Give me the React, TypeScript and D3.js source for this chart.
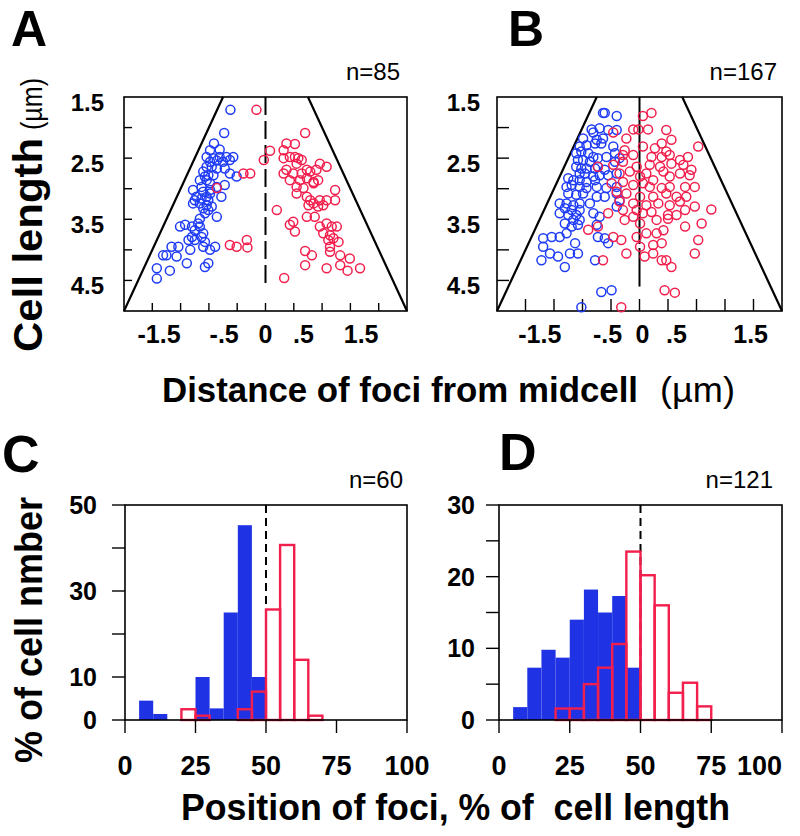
import React from 'react';
import * as d3 from 'd3';

// ---------- Scatter panels (A, B) ----------
const scatterXDomain: [number, number] = [-2.5, 2.5];
const scatterYDomain: [number, number] = [1.5, 5.0];
const scatterYTicks = [2.0, 2.5, 3.0, 3.5, 4.0, 4.5];
const scatterYLabels = [1.5, 2.5, 3.5, 4.5];
const scatterXTicks = [-2, -1.5, -1, -0.5, 0, 0.5, 1, 1.5, 2];
const scatterXLabelText = ['-1.5', '-.5', '0', '.5', '1.5'];
const aXLabelAt = [-1.88, -0.73, 0, 0.67, 1.69];
const bXLabelAt = [-1.75, -0.56, 0.05, 0.65, 1.95];
const cellLengthRange = [1.5, 5.0];
const midlineEnd = 4.6;

const aBlue: [number, number][] = [
  [-0.62, 1.71], [-0.73, 2.09], [-0.91, 2.26], [-0.98, 2.37], [-0.81, 2.36], [-1.04, 2.48], [-0.92, 2.5],
  [-0.81, 2.48], [-0.69, 2.48], [-0.57, 2.48], [-0.63, 2.53], [-0.98, 2.56], [-0.86, 2.54], [-0.75, 2.56],
  [-1.04, 2.64], [-0.95, 2.64], [-0.86, 2.67], [-0.72, 2.67], [-0.63, 2.75], [-0.51, 2.8], [-1.1, 2.72],
  [-1.01, 2.78], [-0.92, 2.78], [-1.16, 2.86], [-1.04, 2.86], [-0.98, 2.91], [-0.72, 2.94], [-1.13, 2.97],
  [-0.86, 2.97], [-1.28, 3.02], [-1.1, 3.05], [-0.98, 3.08], [-0.78, 3.13], [-1.22, 3.13], [-1.04, 3.13],
  [-1.28, 3.24], [-1.16, 3.24], [-1.04, 3.27], [-0.95, 3.29], [-1.1, 3.32], [-1.01, 3.35], [-0.86, 3.46],
  [-1.16, 3.49], [-1.19, 3.57], [-1.51, 3.62], [-1.42, 3.59], [-1.3, 3.62], [-1.16, 3.62], [-1.1, 3.73],
  [-1.36, 3.84], [-1.25, 3.84], [-1.07, 3.87], [-1.33, 4.0], [-1.66, 3.95], [-1.54, 3.95], [-1.1, 3.95],
  [-0.98, 4.0], [-0.89, 3.95], [-1.81, 4.09], [-1.75, 4.09], [-1.57, 4.11], [-1.39, 4.22], [-1.07, 4.28],
  [-1.01, 4.22], [-1.92, 4.3], [-1.69, 4.34], [-1.92, 4.47], [-1.07, 2.8], [-0.98, 3.02], [-1.13, 3.16],
  [-1.01, 3.19], [-1.25, 3.19], [-1.07, 3.4], [-1.25, 3.68], [-1.3, 3.79], [-1.13, 3.79],
];

const aRed: [number, number][] = [
  [-0.16, 1.71], [0.7, 2.09], [0.37, 2.26], [0.52, 2.27], [0.08, 2.38], [0.32, 2.37], [-0.03, 2.53],
  [0.32, 2.5], [0.43, 2.48], [0.52, 2.48], [0.58, 2.5], [0.64, 2.53], [0.55, 2.59], [0.73, 2.69],
  [0.96, 2.59], [1.08, 2.64], [-0.39, 2.75], [-0.27, 2.75], [0.32, 2.75], [0.37, 2.69], [0.49, 2.75],
  [0.64, 2.75], [0.79, 2.72], [0.9, 2.69], [0.43, 2.86], [0.61, 2.86], [0.73, 2.83], [0.85, 2.89],
  [0.93, 2.86], [0.55, 2.97], [0.67, 2.99], [0.85, 2.91], [-0.86, 2.99], [0.55, 3.08], [0.73, 3.13],
  [0.79, 3.19], [0.85, 3.24], [0.96, 3.19], [1.08, 3.19], [1.23, 3.02], [1.23, 3.19], [0.2, 3.35],
  [0.76, 3.27], [0.93, 3.29], [1.02, 3.27], [0.73, 3.46], [0.87, 3.46], [0.49, 3.54], [0.43, 3.59],
  [0.52, 3.7], [0.96, 3.62], [1.08, 3.57], [1.17, 3.62], [1.26, 3.62], [1.02, 3.73], [1.14, 3.76],
  [1.11, 3.84], [1.2, 3.81], [1.29, 3.87], [1.14, 3.95], [-0.63, 3.92], [-0.51, 3.95], [-0.33, 3.84],
  [-0.32, 3.96], [0.7, 4.02], [0.82, 4.09], [1.14, 4.03], [1.32, 4.09], [1.49, 4.14], [0.7, 4.25],
  [1.08, 4.3], [1.32, 4.25], [1.45, 4.34], [1.67, 4.3], [0.33, 4.46],
];

const bBlue: [number, number][] = [
  [-0.64, 1.76], [-0.61, 1.76], [-0.4, 1.81], [-0.84, 2.03], [-0.7, 2.01], [-0.55, 2.04], [-0.4, 2.04],
  [-0.81, 2.08], [-0.99, 2.18], [-0.75, 2.2], [-0.64, 2.18], [-1.05, 2.31], [-0.93, 2.29], [-0.78, 2.26],
  [-0.67, 2.26], [-0.46, 2.31], [-0.43, 2.42], [-1.11, 2.42], [-1.02, 2.39], [-0.9, 2.42], [-0.81, 2.48],
  [-1.08, 2.53], [-0.99, 2.53], [-0.87, 2.56], [-0.73, 2.5], [-0.58, 2.48], [-0.43, 2.56], [-0.35, 2.5],
  [-1.11, 2.64], [-1.02, 2.67], [-0.93, 2.67], [-0.78, 2.67], [-0.73, 2.64], [-0.61, 2.69], [-1.05, 2.75],
  [-0.96, 2.75], [-0.81, 2.8], [-0.7, 2.78], [-0.55, 2.78], [-0.4, 2.75], [-1.25, 2.83], [-1.16, 2.86],
  [-1.05, 2.86], [-0.93, 2.89], [-0.78, 2.86], [-1.28, 2.97], [-1.19, 2.94], [-1.05, 2.97], [-0.93, 2.99],
  [-0.75, 2.97], [-0.58, 2.99], [-0.4, 2.97], [-1.25, 3.08], [-1.11, 3.1], [-0.99, 3.08], [-0.75, 3.13],
  [-0.61, 3.13], [-0.4, 3.08], [-1.4, 3.24], [-1.28, 3.24], [-1.16, 3.27], [-1.05, 3.24], [-0.87, 3.24],
  [-1.31, 3.32], [-1.19, 3.35], [-1.05, 3.35], [-1.4, 3.4], [-1.25, 3.43], [-1.11, 3.43], [-0.81, 3.4],
  [-0.7, 3.46], [-0.4, 3.29], [-0.35, 3.19], [-1.16, 3.51], [-1.05, 3.51], [-1.31, 3.57], [-1.19, 3.62],
  [-1.08, 3.59], [-0.75, 3.59], [-1.69, 3.81], [-1.54, 3.79], [-1.4, 3.79], [-1.28, 3.73], [-0.73, 3.79],
  [-0.61, 3.81], [-0.55, 3.89], [-1.69, 3.95], [-1.13, 3.89], [-1.57, 4.06], [-1.43, 4.11], [-1.22, 4.06],
  [-1.08, 4.06], [-1.72, 4.17], [-1.31, 4.28], [-0.78, 4.17], [-0.67, 4.69], [-0.49, 4.66], [-1.02, 4.94],
];

const bRed: [number, number][] = [
  [0.06, 1.81], [0.21, 1.76], [-0.11, 2.03], [-0.02, 2.03], [0.15, 2.03], [-0.46, 2.08], [-0.23, 2.18],
  [0.47, 2.04], [0.56, 2.2], [0.39, 2.26], [-0.26, 2.37], [0.06, 2.31], [0.27, 2.34], [0.47, 2.39],
  [1.03, 2.31], [-0.29, 2.45], [-0.11, 2.45], [0.21, 2.48], [0.39, 2.48], [0.53, 2.45], [0.71, 2.53],
  [0.85, 2.48], [-0.73, 2.64], [-0.46, 2.61], [-0.29, 2.56], [-0.05, 2.64], [0.18, 2.61], [0.36, 2.64],
  [0.56, 2.59], [0.77, 2.61], [0.91, 2.69], [-0.35, 2.75], [-0.17, 2.72], [0.01, 2.8], [0.12, 2.75],
  [0.24, 2.86], [0.42, 2.72], [0.53, 2.8], [0.71, 2.75], [0.88, 2.78], [-0.49, 2.91], [-0.29, 2.89],
  [-0.11, 2.94], [0.06, 2.91], [0.18, 2.97], [0.39, 2.99], [0.53, 2.97], [0.8, 2.97], [0.97, 2.97],
  [-0.4, 3.05], [-0.23, 3.08], [0.01, 3.13], [0.24, 3.13], [0.47, 3.08], [0.65, 3.13], [0.82, 3.13],
  [-0.35, 3.21], [-0.11, 3.24], [0.12, 3.27], [0.33, 3.24], [0.53, 3.27], [0.71, 3.21], [0.97, 3.29],
  [1.26, 3.34], [-0.55, 3.4], [-0.29, 3.35], [-0.05, 3.35], [0.06, 3.4], [0.21, 3.38], [0.5, 3.43],
  [0.65, 3.43], [0.8, 3.35], [-0.26, 3.51], [-0.11, 3.46], [0.01, 3.57], [0.3, 3.51], [0.5, 3.49],
  [0.8, 3.62], [1.09, 3.57], [-0.9, 3.67], [-0.73, 3.62], [-0.46, 3.79], [-0.32, 3.84], [-0.05, 3.79],
  [0.12, 3.73], [0.3, 3.73], [0.42, 3.68], [-0.23, 4.06], [0.01, 3.95], [0.24, 3.92], [0.39, 3.89],
  [0.09, 4.11], [0.24, 4.06], [0.39, 4.17], [0.47, 4.17], [-0.64, 4.17], [0.56, 4.28], [1.03, 3.84],
  [0.97, 4.06], [0.44, 4.66], [0.62, 4.7], [-0.32, 4.94],
];

// ---------- Histogram panels (C, D) ----------
const binWidth = 5;
const pctTicks = [0, 25, 50, 75, 100];
const midPct = 50;

const cYTicks = [0, 10, 20, 30, 40, 50];
const cYLabels = [0, 10, 30, 50];
const cBlueStart = [5, 10, 25, 30, 35, 40, 45];
const cBlueValue = [4.5, 1.4, 10, 2.7, 25, 45.3, 10];
const cRedStart = [20, 25, 40, 45, 50, 55, 60, 65];
const cRedValue = [2.5, 1, 2.5, 6.6, 25.7, 40.7, 14, 1];

const dYTicks = [0, 5, 10, 15, 20, 25, 30];
const dYLabels = [0, 10, 20, 30];
const dBlueStart = [5, 10, 15, 20, 25, 30, 35, 40, 45];
const dBlueValue = [1.8, 7.3, 9.8, 8.7, 14, 18.2, 15, 17.3, 7.3];
const dRedStart = [20, 25, 30, 35, 40, 45, 50, 55, 60, 65, 70];
const dRedValue = [1.6, 1.6, 5, 7.3, 10.6, 23.5, 20.2, 16, 3.8, 5.2, 1.9];

const FONT = "'Liberation Sans', Arial, Helvetica, sans-serif";
const BLUE = '#1f3cf5';
const RED = '#f21f4d';
const HIST_BLUE = '#1f33e4';

type ScatterProps = {
  x0: number; x1: number; blue: [number, number][]; red: [number, number][];
  labelAt: number[]; tickLen: number; dash: string; labelRight: number;
};

function Scatter({ x0, x1, blue, red, labelAt, tickLen, dash, labelRight }: ScatterProps) {
  const x = d3.scaleLinear().domain(scatterXDomain).range([x0, x1]);
  const y = d3.scaleLinear().domain(scatterYDomain).range([97, 311]);
  const line = d3.line<[number, number]>().x((d) => x(d[0])).y((d) => y(d[1]));
  const leftPole = line(cellLengthRange.map((L) => [-L / 2, L] as [number, number])) || '';
  const rightPole = line(cellLengthRange.map((L) => [L / 2, L] as [number, number])) || '';
  const [yTop, yBot] = y.range();
  return (
    <g>
      <rect x={x0} y={yTop} width={x1 - x0} height={yBot - yTop} fill="none" stroke="#000" strokeWidth={1.6} />
      {scatterYTicks.map((t) => (
        <line key={'yt' + t} x1={x0} x2={x0 + tickLen} y1={y(t)} y2={y(t)} stroke="#000" strokeWidth={1.4} />
      ))}
      {scatterXTicks.map((t) => (
        <line key={'xt' + t} x1={x(t)} x2={x(t)} y1={yBot} y2={yBot - tickLen} stroke="#000" strokeWidth={1.4} />
      ))}
      <path d={leftPole} stroke="#000" strokeWidth={2.2} fill="none" />
      <path d={rightPole} stroke="#000" strokeWidth={2.2} fill="none" />
      <line x1={x(0)} x2={x(0)} y1={yTop} y2={y(midlineEnd)} stroke="#000" strokeWidth={2} strokeDasharray={dash} />
      {blue.map((d, i) => (
        <circle key={'b' + i} cx={x(d[0])} cy={y(d[1])} r={4.5} fill="none" stroke={BLUE} strokeWidth={1.5} />
      ))}
      {red.map((d, i) => (
        <circle key={'r' + i} cx={x(d[0])} cy={y(d[1])} r={4.5} fill="none" stroke={RED} strokeWidth={1.5} />
      ))}
      {scatterYLabels.map((v) => (
        <text key={'yl' + v} x={labelRight} y={y(v) + 14} textAnchor="end" fontFamily={FONT} fontWeight="bold" fontSize={24}>
          {v.toFixed(1)}
        </text>
      ))}
      {scatterXLabelText.map((t, i) => (
        <text key={'xl' + i} x={x(labelAt[i])} y={343} textAnchor="middle" fontFamily={FONT} fontWeight="bold" fontSize={25}>
          {t}
        </text>
      ))}
    </g>
  );
}

type HistProps = {
  x0: number; x1: number; yMax: number; yTicks: number[]; yLabels: number[];
  blueStart: number[]; blueValue: number[]; redStart: number[]; redValue: number[];
  labelRight: number; lastAnchorEnd: boolean;
};

function Hist({ x0, x1, yMax, yTicks, yLabels, blueStart, blueValue, redStart, redValue, labelRight, lastAnchorEnd }: HistProps) {
  const x = d3.scaleLinear().domain([0, 100]).range([x0, x1]);
  const y = d3.scaleLinear().domain([0, yMax]).range([720, 505]);
  const tick = 13;
  return (
    <g>
      {blueStart.map((s, i) => (
        <rect key={'hb' + i} x={x(s)} y={y(blueValue[i])} width={x(s + binWidth) - x(s)} height={y(0) - y(blueValue[i])} fill={HIST_BLUE} />
      ))}
      <line x1={x(midPct)} x2={x(midPct)} y1={y(yMax)} y2={y(0)} stroke="#000" strokeWidth={2} strokeDasharray="8,5" />
      {redStart.map((s, i) => (
        <rect key={'hr' + i} x={x(s)} y={y(redValue[i])} width={x(s + binWidth) - x(s)} height={y(0) - y(redValue[i])} fill="none" stroke={RED} strokeWidth={2.4} />
      ))}
      <rect x={x0} y={y(yMax)} width={x1 - x0} height={y(0) - y(yMax)} fill="none" stroke="#000" strokeWidth={1.6} />
      {yTicks.map((t) => (
        <line key={'yt' + t} x1={x0 - tick} x2={x0} y1={y(t)} y2={y(t)} stroke="#000" strokeWidth={1.4} />
      ))}
      {pctTicks.map((t) => (
        <line key={'xt' + t} x1={x(t)} x2={x(t)} y1={y(0)} y2={y(0) + tick} stroke="#000" strokeWidth={1.4} />
      ))}
      {yLabels.map((v) => (
        <text key={'yl' + v} x={labelRight} y={y(v) + 9} textAnchor="end" fontFamily={FONT} fontWeight="bold" fontSize={25}>
          {v}
        </text>
      ))}
      {pctTicks.map((t, i) => (
        <text key={'xl' + t} x={x(t)} y={775} textAnchor={lastAnchorEnd && i === pctTicks.length - 1 ? 'end' : 'middle'} fontFamily={FONT} fontWeight="bold" fontSize={27}>
          {t}
        </text>
      ))}
    </g>
  );
}

export default function App() {
  return (
    <div style={{ position: 'absolute', left: 0, top: 0 }}>
      <svg width={800} height={836} style={{ display: 'block', background: '#fff' }}>
        {/* panel letters */}
        <text x={11} y={46} fontFamily={FONT} fontWeight="bold" fontSize={50}>A</text>
        <text x={508} y={46} fontFamily={FONT} fontWeight="bold" fontSize={50}>B</text>
        <text x={2} y={472} fontFamily={FONT} fontWeight="bold" fontSize={52}>C</text>
        <text x={499} y={470} fontFamily={FONT} fontWeight="bold" fontSize={52}>D</text>

        {/* n labels */}
        <text x={400} y={80} textAnchor="end" fontFamily={FONT} fontSize={24}>n=85</text>
        <text x={777} y={80} textAnchor="end" fontFamily={FONT} fontSize={24}>n=167</text>
        <text x={403} y={488} textAnchor="end" fontFamily={FONT} fontSize={24}>n=60</text>
        <text x={773} y={488} textAnchor="end" fontFamily={FONT} fontSize={24}>n=121</text>

        <Scatter x0={124} x1={407} blue={aBlue} red={aRed} labelAt={aXLabelAt} tickLen={8} dash="18,6" labelRight={104} />
        <Scatter x0={497} x1={782} blue={bBlue} red={bRed} labelAt={bXLabelAt} tickLen={12} dash="147,4" labelRight={480} />

        <Hist x0={125} x1={407} yMax={50} yTicks={cYTicks} yLabels={cYLabels} blueStart={cBlueStart} blueValue={cBlueValue}
          redStart={cRedStart} redValue={cRedValue} labelRight={97} lastAnchorEnd={false} />
        <Hist x0={499} x1={782} yMax={30} yTicks={dYTicks} yLabels={dYLabels} blueStart={dBlueStart} blueValue={dBlueValue}
          redStart={dRedStart} redValue={dRedValue} labelRight={475} lastAnchorEnd={true} />

        {/* axis titles */}
        <text x={162} y={402} fontFamily={FONT} fontWeight="bold" fontSize={35} textLength={476} lengthAdjust="spacingAndGlyphs">
          Distance of foci from midcell
        </text>
        <text x={660} y={402} fontFamily={FONT} fontSize={35} textLength={75} lengthAdjust="spacingAndGlyphs">(µm)</text>

        <g transform="translate(42,352) rotate(-90)">
          <text x={0} y={0} fontFamily={FONT} fontWeight="bold" fontSize={40} textLength={214} lengthAdjust="spacingAndGlyphs">
            Cell length
          </text>
          <text x={222} y={0} fontFamily={FONT} fontSize={30} textLength={52} lengthAdjust="spacingAndGlyphs">(µm)</text>
        </g>

        <g transform="translate(42,763) rotate(-90)">
          <text x={0} y={0} fontFamily={FONT} fontWeight="bold" fontSize={38} textLength={266} lengthAdjust="spacingAndGlyphs">
            % of cell nmber
          </text>
        </g>

        <text x={181} y={820} fontFamily={FONT} fontWeight="bold" fontSize={36} textLength={549} lengthAdjust="spacingAndGlyphs" style={{ whiteSpace: 'pre' }}>
          {'Position of foci, % of  cell length'}
        </text>
      </svg>
    </div>
  );
}
